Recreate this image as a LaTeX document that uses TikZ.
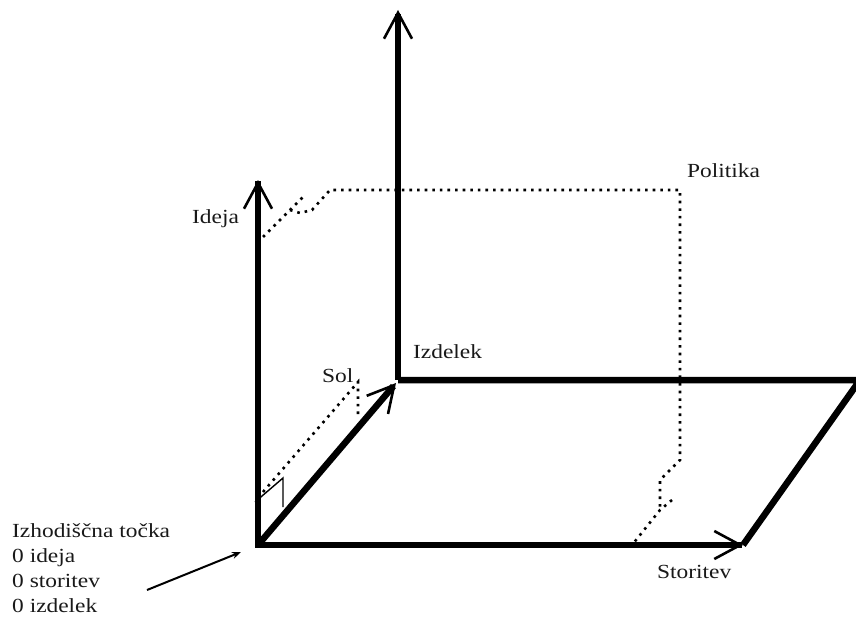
\documentclass[tikz,border=0pt]{standalone}
\usepackage{fontspec}
\setmainfont{Liberation Serif}[FakeStretch=1.17]
\usetikzlibrary{arrows.meta}

\begin{document}
\begin{tikzpicture}[x=1pt, y=-1pt,
    font=\fontsize{20}{24.7}\selectfont,
    axis/.style={line width=6.5pt, -{Straight Barb[length=26pt, width=28pt, line width=2.6pt]}},
    rim/.style={line width=6.5pt, line join=miter},
    route/.style={line width=2.6pt, dash pattern=on 2.6pt off 5pt},
    marker/.style={line width=1.4pt},
    lbl/.style={anchor=base west, inner sep=0pt, text=black!90},
  ]
    \useasboundingbox (0,0) rectangle (856,626);
    % corner points of the space
    \coordinate (O) at (258,545);
    \coordinate (idejaTip) at (258,180);
    \coordinate (storitevTip) at (743,545);
    \coordinate (izdelekTip) at (396,383);
    \coordinate (back) at (398,380);
    \coordinate (backTop) at (398,10);
    \coordinate (backRight) at (860,380);
    % labels
    \node[lbl] (ideja) at (192,223) {Ideja};
    \node[lbl] (politika) at (687,177) {Politika};
    \node[lbl] (izdelek) at (413,358) {Izdelek};
    \node[lbl] (sol) at (322,382) {Sol};
    \node[lbl] (storitev) at (657,578) {Storitev};
    \node[lbl, align=left] (tocka) at (12,612) {Izhodiščna točka\\0 ideja\\0 storitev\\0 izdelek};
    % axes
    \draw[axis, line cap=rect] (O) -- (idejaTip);
    \draw[axis, line cap=rect] (O) -- (storitevTip);
    \draw[axis] (O) -- (izdelekTip);
    \draw[axis] (back) -- (backTop);
    \draw[rim] (back) -- (backRight) -- (storitevTip);
    % routes
    \draw[route] (263,237) -- (305,195);
    \draw[route] (290,210) -- (300,213) -- (312,210) -- (330,190) -- (680,190) -- (680,460)
      -- (660,480) -- (660,507);
    \draw[route] (672,500) -- (660,510) -- (632,545);
    \draw[route] (263,492) -- (358,382) -- (358,418);
    \draw[marker] (255,502) -- (283,478) -- (283,507);
    % pointer to the origin
    \coordinate (kazalec) at (147,590);
    \coordinate (kazalecTip) at (241,552);
    \draw[line width=2pt, -{Stealth[length=9pt, width=7pt]}] (kazalec) -- (kazalecTip);
  \end{tikzpicture}
\end{document}
